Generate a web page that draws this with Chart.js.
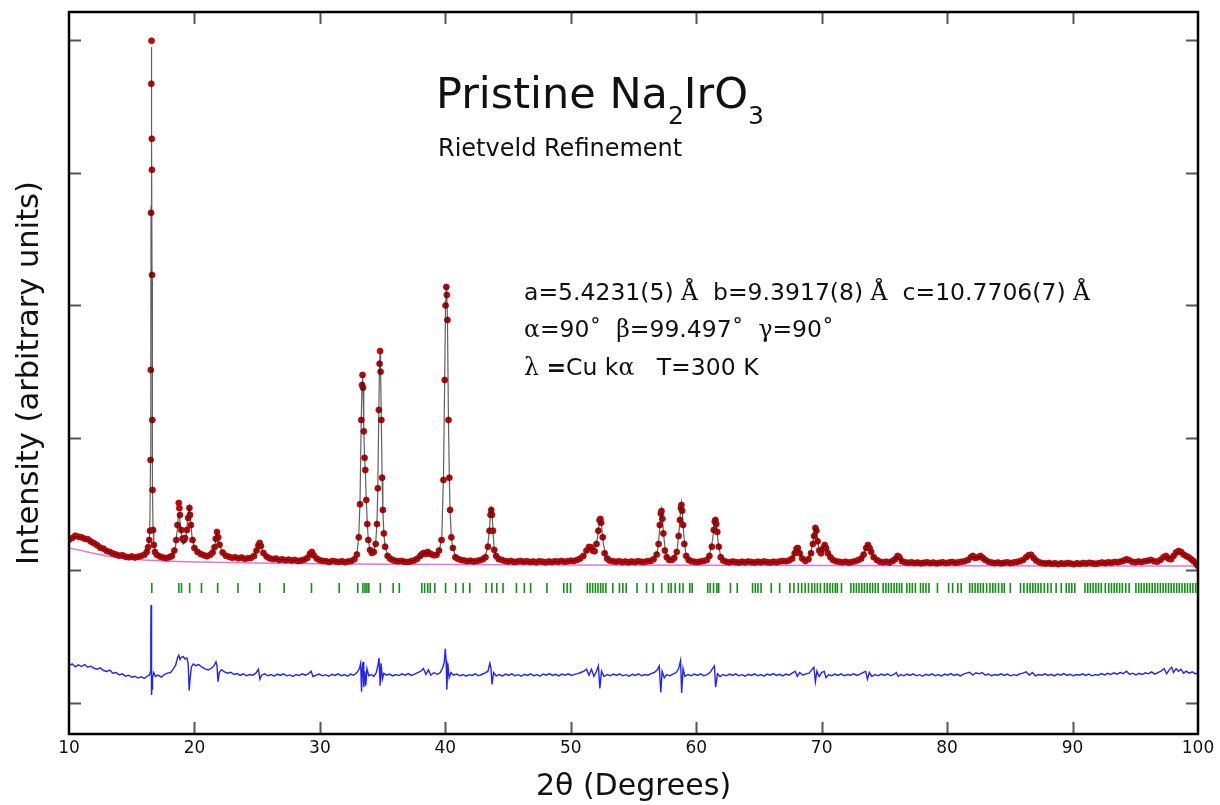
<!DOCTYPE html>
<html><head><meta charset="utf-8">
<script src="https://cdn.jsdelivr.net/npm/chart.js@4/dist/chart.umd.min.js"></script>
<style>
html,body{margin:0;padding:0;background:#fff;}
#wrap{position:relative;width:1220px;height:805px;overflow:hidden;font-family:"DejaVu Sans",sans-serif;color:#000;}
#c{position:absolute;left:0;top:0;}
.t{position:absolute;white-space:pre;line-height:1;color:#111;}
.g{font-family:"DejaVu Serif","Liberation Serif",serif;}
</style></head><body>
<div id="wrap">
<canvas id="c" width="1220" height="805"></canvas>
<div class="t" style="left:436px;top:72px;font-size:43px;">Pristine Na<span style="font-size:25px;position:relative;top:16px;">2</span>IrO<span style="font-size:25px;position:relative;top:16px;">3</span></div>
<div class="t" style="left:438px;top:136px;font-size:24px;">Rietveld Refinement</div>
<div class="t" style="left:524px;top:281px;font-size:23.5px;">a=5.4231(5) <span class="g">Å</span>  b=9.3917(8) <span class="g">Å</span>  c=10.7706(7) <span class="g">Å</span></div>
<div class="t" style="left:524px;top:318px;font-size:23.5px;"><span class="g">α</span>=90˚  <span class="g">β</span>=99.497˚  <span class="g">γ</span>=90˚</div>
<div class="t" style="left:524px;top:356px;font-size:23.5px;"><span class="g">λ</span> <b>=</b>Cu k<span class="g">α</span>   T=300 K</div>
</div>
<script>
const xTicks = [10,20,30,40,50,60,70,80,90,100];
const yTicks = [-1000,0,1000,2000,3000,4000];

const observed = [[10.00,232],[10.25,245],[10.50,262],[10.75,255],[11.00,250],[11.25,240],[11.50,236],[11.75,218],[12.00,205],[12.25,190],[12.50,172],[12.75,165],[13.00,148],[13.25,140],[13.50,128],[13.75,120],[14.00,112],[14.25,115],[14.50,104],[14.75,100],[15.00,106],[15.25,98],[15.50,104],[15.75,110],[16.00,118],[16.20,140],[16.30,175],[16.40,230],[16.46,300],[16.50,834],[16.52,1514],[16.54,2699],[16.56,3673],[16.58,3998],[16.60,3258],[16.61,3024],[16.62,2231],[16.64,1136],[16.66,608],[16.70,306],[16.76,193],[16.85,140],[17.00,118],[17.25,105],[17.50,98],[17.75,94],[18.00,100],[18.20,110],[18.40,150],[18.55,230],[18.65,343],[18.75,509],[18.80,470],[18.85,419],[18.95,306],[19.05,240],[19.15,228],[19.25,245],[19.40,306],[19.50,396],[19.60,472],[19.65,420],[19.72,343],[19.85,230],[20.00,170],[20.25,140],[20.50,125],[20.75,115],[21.00,108],[21.25,118],[21.45,135],[21.60,175],[21.70,240],[21.80,291],[21.90,250],[22.00,195],[22.25,135],[22.50,112],[22.75,104],[23.00,96],[23.25,100],[23.50,92],[23.75,98],[24.00,88],[24.25,92],[24.50,95],[24.75,110],[24.95,150],[25.10,190],[25.20,208],[25.30,185],[25.50,132],[25.75,105],[26.00,92],[26.25,86],[26.50,90],[26.75,80],[27.00,84],[27.25,78],[27.50,82],[27.75,76],[28.00,80],[28.25,72],[28.50,76],[28.75,82],[29.00,95],[29.20,125],[29.35,140],[29.50,115],[29.75,90],[30.00,78],[30.25,72],[30.50,70],[30.75,64],[31.00,72],[31.25,68],[31.50,64],[31.75,70],[32.00,62],[32.25,68],[32.50,72],[32.75,85],[32.95,120],[33.10,250],[33.20,500],[33.30,1136],[33.36,1400],[33.40,1476],[33.44,1380],[33.50,1050],[33.56,850],[33.62,758],[33.70,532],[33.78,350],[33.86,230],[34.00,155],[34.15,132],[34.30,140],[34.45,200],[34.55,350],[34.62,620],[34.70,1212],[34.76,1560],[34.80,1656],[34.84,1500],[34.90,1136],[34.96,700],[35.02,457],[35.10,280],[35.20,180],[35.40,110],[35.60,90],[35.80,79],[36.00,74],[36.25,70],[36.50,72],[36.75,66],[37.00,64],[37.25,70],[37.50,76],[37.75,88],[38.00,110],[38.15,125],[38.30,132],[38.45,125],[38.60,140],[38.75,128],[38.90,122],[39.10,115],[39.30,118],[39.50,150],[39.70,230],[39.85,683],[39.95,1438],[40.02,2000],[40.08,2140],[40.12,2080],[40.17,1891],[40.25,1136],[40.32,700],[40.38,457],[40.48,250],[40.60,170],[40.80,100],[41.00,88],[41.25,80],[41.50,76],[41.75,70],[42.00,74],[42.25,68],[42.50,72],[42.75,78],[43.00,85],[43.20,100],[43.40,180],[43.52,300],[43.60,420],[43.66,457],[43.72,420],[43.80,300],[43.90,155],[44.05,110],[44.25,87],[44.50,80],[44.75,72],[45.00,68],[45.25,72],[45.50,64],[45.75,68],[46.00,72],[46.25,66],[46.50,70],[46.75,64],[47.00,68],[47.25,62],[47.50,70],[47.75,66],[48.00,62],[48.25,68],[48.50,64],[48.75,70],[49.00,66],[49.25,72],[49.50,66],[49.75,70],[50.00,74],[50.25,72],[50.50,80],[50.75,90],[51.00,110],[51.25,150],[51.45,178],[51.60,175],[51.75,150],[51.90,145],[52.05,200],[52.20,300],[52.30,380],[52.36,389],[52.42,360],[52.55,250],[52.70,130],[52.90,90],[53.10,75],[53.35,70],[53.60,66],[53.85,70],[54.10,64],[54.35,68],[54.60,62],[54.85,68],[55.10,64],[55.35,70],[55.60,66],[55.85,64],[56.10,70],[56.35,72],[56.60,85],[56.85,120],[57.00,200],[57.10,343],[57.18,430],[57.23,449],[57.30,390],[57.38,280],[57.50,150],[57.65,100],[57.85,80],[58.05,80],[58.25,95],[58.45,140],[58.60,260],[58.70,381],[58.78,470],[58.82,494],[58.88,450],[58.95,343],[59.05,200],[59.20,110],[59.40,80],[59.60,70],[59.85,66],[60.10,64],[60.35,68],[60.60,72],[60.85,80],[61.05,110],[61.25,180],[61.40,306],[61.48,370],[61.53,381],[61.60,350],[61.68,291],[61.80,180],[61.95,100],[62.15,75],[62.40,66],[62.65,62],[62.90,68],[63.15,64],[63.40,60],[63.65,66],[63.90,62],[64.15,68],[64.40,64],[64.65,60],[64.90,66],[65.15,62],[65.40,68],[65.65,64],[65.90,60],[66.15,66],[66.40,62],[66.65,68],[66.90,72],[67.15,70],[67.40,76],[67.65,90],[67.85,130],[68.00,165],[68.10,170],[68.25,130],[68.45,90],[68.70,72],[68.95,85],[69.15,130],[69.30,200],[69.40,260],[69.50,321],[69.58,300],[69.68,220],[69.80,150],[69.95,130],[70.10,165],[70.24,193],[70.35,170],[70.50,130],[70.70,100],[70.90,80],[71.15,70],[71.40,66],[71.65,62],[71.90,66],[72.15,60],[72.40,64],[72.65,70],[72.90,78],[73.15,90],[73.35,120],[73.55,170],[73.69,193],[73.82,170],[73.95,140],[74.15,100],[74.40,80],[74.65,66],[74.90,62],[75.15,66],[75.40,60],[75.65,72],[75.85,85],[76.05,110],[76.20,100],[76.40,70],[76.65,62],[76.90,58],[77.15,62],[77.40,56],[77.65,60],[77.90,54],[78.15,58],[78.40,62],[78.65,56],[78.90,60],[79.15,54],[79.40,58],[79.65,62],[79.90,56],[80.15,60],[80.40,64],[80.65,58],[80.90,62],[81.15,66],[81.40,70],[81.65,80],[81.90,100],[82.05,110],[82.25,95],[82.45,100],[82.65,110],[82.85,95],[83.05,80],[83.30,66],[83.55,60],[83.80,56],[84.05,60],[84.30,54],[84.55,58],[84.80,62],[85.05,56],[85.30,60],[85.55,64],[85.80,70],[86.05,80],[86.30,100],[86.50,115],[86.70,118],[86.90,95],[87.10,75],[87.35,62],[87.60,56],[87.85,52],[88.10,56],[88.35,50],[88.60,54],[88.85,48],[89.10,54],[89.35,50],[89.60,56],[89.85,52],[90.10,48],[90.35,54],[90.60,50],[90.85,56],[91.10,52],[91.35,58],[91.60,54],[91.85,50],[92.10,56],[92.35,60],[92.60,56],[92.85,62],[93.10,58],[93.35,64],[93.60,62],[93.85,68],[94.10,75],[94.30,85],[94.50,78],[94.75,66],[95.00,62],[95.25,68],[95.50,64],[95.75,70],[96.00,74],[96.25,80],[96.50,70],[96.75,66],[97.00,80],[97.25,100],[97.45,110],[97.65,90],[97.85,85],[98.05,110],[98.25,135],[98.45,147],[98.65,140],[98.85,120],[99.05,110],[99.25,100],[99.45,85],[99.65,70],[99.85,50],[100.00,34]];

const calculated = [[10.0,240],[10.5,255],[11.0,250],[11.5,232],[12.0,205],[12.5,175],[13.0,150],[13.5,128],[14.0,113],[14.5,105],[15.0,102],[15.5,103],[16.0,115],[16.3,170],[16.44,280],[16.50,850],[16.52,1550],[16.54,2750],[16.56,3650],[16.58,3950],[16.60,3250],[16.62,2200],[16.64,1150],[16.66,620],[16.70,320],[16.76,200],[16.9,135],[17.2,108],[17.6,98],[18.0,100],[18.3,125],[18.5,190],[18.62,300],[18.72,420],[18.78,430],[18.86,360],[18.98,250],[19.1,200],[19.25,215],[19.4,320],[19.52,440],[19.6,480],[19.68,400],[19.8,260],[20.0,170],[20.4,130],[20.8,112],[21.2,112],[21.5,140],[21.65,200],[21.78,290],[21.88,260],[22.0,190],[22.3,125],[22.8,100],[23.5,95],[24.2,90],[24.7,105],[25.0,160],[25.18,205],[25.35,170],[25.6,115],[26.0,92],[27.0,82],[28.0,76],[28.8,82],[29.15,115],[29.32,132],[29.5,110],[29.9,82],[30.8,70],[31.8,67],[32.6,72],[32.95,120],[33.1,260],[33.2,520],[33.3,1150],[33.36,1420],[33.40,1480],[33.44,1390],[33.5,1060],[33.56,860],[33.62,760],[33.7,530],[33.78,350],[33.86,230],[34.0,155],[34.15,135],[34.3,145],[34.45,210],[34.55,360],[34.62,630],[34.7,1220],[34.76,1570],[34.8,1640],[34.84,1510],[34.9,1130],[34.96,700],[35.02,450],[35.1,280],[35.2,180],[35.4,112],[35.7,84],[36.3,72],[37.0,68],[37.6,78],[38.0,105],[38.3,130],[38.6,135],[38.9,120],[39.3,118],[39.55,160],[39.72,260],[39.85,700],[39.95,1450],[40.02,2020],[40.08,2150],[40.12,2090],[40.17,1880],[40.25,1130],[40.32,700],[40.38,450],[40.48,250],[40.6,165],[40.85,100],[41.3,80],[42.0,72],[42.7,76],[43.1,92],[43.35,160],[43.52,310],[43.6,440],[43.66,470],[43.72,430],[43.8,300],[43.9,160],[44.05,110],[44.3,88],[45.0,70],[46.0,68],[47.0,66],[48.0,66],[49.0,67],[50.0,72],[50.6,82],[51.0,108],[51.3,150],[51.5,172],[51.7,160],[51.9,160],[52.1,230],[52.25,340],[52.36,380],[52.45,340],[52.6,200],[52.8,110],[53.1,78],[53.8,68],[55.0,66],[56.0,68],[56.6,85],[56.9,140],[57.05,270],[57.15,400],[57.23,460],[57.3,400],[57.4,270],[57.55,140],[57.75,90],[58.05,82],[58.3,105],[58.5,170],[58.65,320],[58.75,450],[58.82,510],[58.9,430],[59.0,280],[59.15,140],[59.4,82],[60.0,66],[60.7,72],[61.05,110],[61.3,230],[61.45,350],[61.53,390],[61.62,340],[61.75,210],[61.95,105],[62.3,70],[63.5,63],[65.0,63],[66.5,65],[67.3,72],[67.7,100],[67.95,160],[68.08,175],[68.25,135],[68.5,85],[68.8,78],[69.1,120],[69.3,210],[69.42,290],[69.5,330],[69.6,290],[69.75,180],[69.95,140],[70.15,180],[70.25,195],[70.4,160],[70.65,105],[71.0,75],[71.6,64],[72.5,64],[73.0,75],[73.3,110],[73.55,170],[73.68,195],[73.85,165],[74.1,105],[74.5,72],[75.3,63],[75.8,80],[76.05,108],[76.3,80],[76.8,60],[78.0,58],[79.5,58],[81.0,63],[81.6,78],[82.0,105],[82.3,95],[82.65,108],[83.0,82],[83.5,62],[84.5,58],[85.6,62],[86.1,82],[86.5,112],[86.7,116],[86.95,90],[87.4,62],[88.5,53],[90.0,52],[91.5,54],[92.6,58],[93.6,64],[94.0,72],[94.3,82],[94.6,72],[95.2,65],[96.0,72],[96.3,78],[96.7,68],[97.1,82],[97.45,106],[97.7,90],[98.0,105],[98.45,145],[98.8,125],[99.2,100],[99.6,72],[100.0,40]];

const background = [[10,170],[11,150],[12,128],[13,110],[14,96],[15,86],[16,79],[18,70],[20,64],[25,56],[30,51],[35,48],[40,46],[50,42],[60,40],[70,37],[80,35],[90,34],[100,33]];

const difference = [[10.00,-720],[10.25,-705],[10.50,-728],[10.75,-712],[11.00,-725],[11.25,-710],[11.50,-730],[11.75,-722],[12.00,-738],[12.25,-745],[12.50,-735],[12.75,-755],[13.00,-762],[13.25,-752],[13.50,-775],[13.75,-770],[14.00,-788],[14.25,-780],[14.50,-798],[14.75,-790],[15.00,-805],[15.25,-798],[15.50,-812],[15.75,-802],[16.00,-815],[16.20,-800],[16.40,-790],[16.50,-760],[16.52,-520],[16.54,-260],[16.56,-420],[16.58,-600],[16.60,-940],[16.62,-860],[16.64,-900],[16.68,-810],[16.75,-770],[16.90,-800],[17.10,-790],[17.35,-805],[17.60,-785],[17.85,-775],[18.10,-770],[18.30,-745],[18.50,-715],[18.65,-660],[18.75,-640],[18.85,-672],[18.95,-655],[19.10,-650],[19.25,-668],[19.40,-660],[19.50,-700],[19.58,-905],[19.65,-820],[19.75,-730],[19.90,-705],[20.10,-718],[20.35,-710],[20.60,-730],[20.85,-742],[21.10,-750],[21.35,-738],[21.55,-720],[21.72,-690],[21.80,-720],[21.88,-840],[21.98,-770],[22.15,-748],[22.40,-765],[22.65,-775],[22.90,-768],[23.15,-785],[23.40,-778],[23.65,-792],[23.90,-780],[24.15,-795],[24.40,-785],[24.65,-790],[24.90,-775],[25.10,-745],[25.22,-820],[25.35,-790],[25.60,-780],[25.85,-795],[26.10,-785],[26.35,-798],[26.60,-782],[26.85,-792],[27.10,-780],[27.35,-795],[27.60,-788],[27.85,-800],[28.10,-785],[28.35,-793],[28.60,-780],[28.85,-790],[29.10,-778],[29.30,-760],[29.45,-800],[29.70,-790],[29.95,-782],[30.20,-795],[30.45,-786],[30.70,-798],[30.95,-784],[31.20,-792],[31.45,-780],[31.70,-795],[31.95,-785],[32.20,-798],[32.45,-782],[32.70,-790],[32.95,-770],[33.15,-740],[33.25,-700],[33.32,-915],[33.38,-740],[33.44,-690],[33.50,-880],[33.58,-760],[33.66,-870],[33.75,-740],[33.90,-795],[34.10,-785],[34.30,-800],[34.50,-770],[34.62,-720],[34.72,-660],[34.80,-870],[34.88,-700],[34.98,-820],[35.10,-775],[35.30,-790],[35.55,-782],[35.80,-796],[36.05,-785],[36.30,-793],[36.55,-780],[36.80,-790],[37.05,-778],[37.30,-792],[37.55,-782],[37.80,-770],[38.05,-760],[38.25,-740],[38.45,-785],[38.65,-750],[38.85,-790],[39.10,-770],[39.35,-785],[39.60,-770],[39.80,-730],[39.92,-690],[40.00,-590],[40.06,-680],[40.12,-900],[40.20,-700],[40.30,-810],[40.45,-770],[40.65,-790],[40.90,-782],[41.15,-795],[41.40,-785],[41.65,-798],[41.90,-786],[42.15,-792],[42.40,-780],[42.65,-795],[42.90,-785],[43.15,-775],[43.40,-760],[43.55,-700],[43.64,-740],[43.72,-860],[43.85,-770],[44.05,-795],[44.30,-785],[44.55,-797],[44.80,-782],[45.05,-792],[45.30,-780],[45.55,-795],[45.80,-786],[46.05,-798],[46.30,-784],[46.55,-792],[46.80,-780],[47.05,-795],[47.30,-785],[47.55,-798],[47.80,-782],[48.05,-790],[48.30,-778],[48.55,-792],[48.80,-784],[49.05,-796],[49.30,-782],[49.55,-790],[49.80,-780],[50.05,-792],[50.30,-784],[50.55,-778],[50.80,-770],[51.05,-760],[51.25,-745],[51.45,-790],[51.65,-745],[51.85,-800],[52.05,-760],[52.20,-720],[52.32,-890],[52.45,-760],[52.65,-800],[52.90,-785],[53.15,-795],[53.40,-782],[53.65,-792],[53.90,-780],[54.15,-795],[54.40,-786],[54.65,-798],[54.90,-784],[55.15,-792],[55.40,-780],[55.65,-795],[55.90,-785],[56.15,-790],[56.40,-778],[56.65,-770],[56.90,-750],[57.05,-720],[57.18,-920],[57.28,-760],[57.45,-810],[57.65,-785],[57.90,-795],[58.15,-782],[58.40,-770],[58.60,-740],[58.75,-680],[58.84,-925],[58.95,-740],[59.10,-800],[59.35,-785],[59.60,-795],[59.85,-782],[60.10,-792],[60.35,-780],[60.60,-795],[60.85,-786],[61.10,-770],[61.30,-740],[61.45,-720],[61.55,-880],[61.70,-780],[61.90,-800],[62.15,-785],[62.40,-795],[62.65,-782],[62.90,-792],[63.15,-780],[63.40,-795],[63.65,-786],[63.90,-798],[64.15,-784],[64.40,-792],[64.65,-780],[64.90,-795],[65.15,-785],[65.40,-798],[65.65,-782],[65.90,-790],[66.15,-778],[66.40,-792],[66.65,-784],[66.90,-796],[67.15,-782],[67.40,-790],[67.65,-775],[67.90,-760],[68.05,-800],[68.25,-770],[68.50,-790],[68.75,-780],[69.00,-775],[69.20,-750],[69.38,-730],[69.50,-840],[69.62,-760],[69.80,-800],[70.00,-770],[70.20,-760],[70.35,-810],[70.55,-785],[70.80,-795],[71.05,-782],[71.30,-792],[71.55,-780],[71.80,-795],[72.05,-785],[72.30,-790],[72.55,-780],[72.80,-792],[73.05,-782],[73.30,-770],[73.50,-760],[73.65,-820],[73.80,-770],[74.00,-800],[74.25,-785],[74.50,-795],[74.75,-782],[75.00,-792],[75.25,-780],[75.50,-795],[75.75,-785],[75.95,-770],[76.10,-800],[76.30,-785],[76.55,-795],[76.80,-782],[77.05,-792],[77.30,-780],[77.55,-795],[77.80,-786],[78.05,-798],[78.30,-784],[78.55,-792],[78.80,-780],[79.05,-795],[79.30,-785],[79.55,-798],[79.80,-782],[80.05,-790],[80.30,-778],[80.55,-792],[80.80,-784],[81.05,-796],[81.30,-782],[81.55,-775],[81.80,-768],[82.05,-790],[82.30,-772],[82.55,-780],[82.80,-770],[83.05,-790],[83.30,-782],[83.55,-795],[83.80,-785],[84.05,-790],[84.30,-780],[84.55,-792],[84.80,-782],[85.05,-795],[85.30,-786],[85.55,-792],[85.80,-780],[86.05,-775],[86.30,-765],[86.55,-790],[86.80,-770],[87.05,-795],[87.30,-785],[87.55,-790],[87.80,-780],[88.05,-792],[88.30,-784],[88.55,-796],[88.80,-782],[89.05,-790],[89.30,-778],[89.55,-792],[89.80,-784],[90.05,-795],[90.30,-785],[90.55,-790],[90.80,-780],[91.05,-792],[91.30,-782],[91.55,-795],[91.80,-786],[92.05,-790],[92.30,-778],[92.55,-788],[92.80,-776],[93.05,-785],[93.30,-772],[93.55,-782],[93.80,-770],[94.05,-778],[94.30,-760],[94.55,-785],[94.80,-775],[95.05,-788],[95.30,-776],[95.55,-785],[95.80,-772],[96.05,-780],[96.30,-765],[96.55,-782],[96.80,-770],[97.05,-760],[97.30,-740],[97.50,-780],[97.70,-750],[97.90,-730],[98.05,-770],[98.25,-740],[98.45,-760],[98.65,-745],[98.85,-775],[99.05,-760],[99.30,-775],[99.55,-765],[99.80,-780],[100.00,-772]];

const braggPositions = [16.60,18.76,18.97,19.62,20.56,21.85,23.47,25.21,27.15,29.33,31.54,33.02,33.43,33.60,33.75,33.90,34.82,35.84,36.33,38.13,38.35,38.60,38.80,39.16,40.02,40.83,41.42,41.95,43.25,43.71,44.10,44.60,45.67,46.30,46.80,48.10,49.44,49.71,49.98,51.32,51.53,51.74,51.96,52.17,52.38,52.57,52.80,53.35,53.88,54.15,54.42,55.28,56.04,56.57,57.25,57.79,58.00,58.32,58.68,58.95,59.49,59.68,60.92,61.11,61.38,61.65,61.79,62.73,63.27,64.49,64.71,64.92,65.17,65.98,66.65,67.47,67.79,68.14,68.41,68.68,68.95,69.22,69.44,69.66,69.90,70.22,70.44,70.66,70.87,71.09,71.25,71.58,72.33,72.55,72.77,72.98,73.20,73.41,73.63,73.85,74.06,74.28,74.50,74.90,75.12,75.33,75.55,75.77,75.98,76.20,76.39,76.79,77.01,77.23,77.47,77.88,78.09,78.31,78.55,79.23,80.12,80.44,80.85,81.12,81.80,82.01,82.23,82.45,82.66,82.88,83.15,83.42,83.64,83.85,84.10,84.37,84.56,85.04,85.85,86.12,86.39,86.61,86.83,87.04,87.26,87.48,87.75,88.02,88.29,88.69,89.10,89.50,89.72,89.94,90.18,90.99,91.21,91.42,91.64,91.86,92.07,92.29,92.61,92.88,93.10,93.32,93.53,93.75,93.97,94.24,94.51,95.05,95.27,95.48,95.70,95.92,96.13,96.35,96.57,96.78,97.00,97.22,97.43,97.65,97.86,98.08,98.30,98.51,98.73,98.95,99.16,99.38,99.59,99.81];
const braggLevel = -132;

const toXY = arr => arr.map(p => ({x: p[0], y: p[1]}));

const framePlugin = {
  id: 'frame',
  afterDatasetsDraw(chart) {
    const {ctx, chartArea: a, scales: {x, y}} = chart;
    const L = 12;
    ctx.save();
    ctx.strokeStyle = '#555';
    ctx.lineWidth = 2;
    ctx.beginPath();
    xTicks.forEach(v => {
      if (v === x.min || v === x.max) return;
      const px = Math.round(x.getPixelForValue(v)) + 0.5;
      ctx.moveTo(px, a.bottom); ctx.lineTo(px, a.bottom - L);
      ctx.moveTo(px, a.top); ctx.lineTo(px, a.top + L);
    });
    yTicks.forEach(v => {
      const py = Math.round(y.getPixelForValue(v)) + 0.5;
      ctx.moveTo(a.left, py); ctx.lineTo(a.left + L, py);
      ctx.moveTo(a.right, py); ctx.lineTo(a.right - L, py);
    });
    ctx.stroke();
    ctx.strokeStyle = '#000';
    ctx.lineWidth = 2.5;
    ctx.strokeRect(a.left, a.top, a.right - a.left, a.bottom - a.top);
    ctx.restore();
  }
};

Chart.defaults.font.family = '"DejaVu Sans", sans-serif';
new Chart(document.getElementById('c'), {
  type: 'scatter',
  data: {
    datasets: [
      {label: 'Calculated', data: toXY(calculated), showLine: true, borderColor: 'rgba(30,30,30,0.7)', borderWidth: 1.2, pointRadius: 0, order: 0},
      {label: 'Observed', data: toXY(observed), showLine: false, pointRadius: 3, pointBackgroundColor: '#d00000', pointBorderColor: '#950000', pointBorderWidth: 0.7, order: 1},
      {label: 'Background', data: toXY(background), showLine: true, borderColor: '#dd77dd', borderWidth: 1.5, pointRadius: 0, order: 2},
      {label: 'Difference', data: toXY(difference), showLine: true, borderColor: '#2222ff', borderWidth: 1.4, pointRadius: 0, order: 3},
      {label: 'Bragg positions', data: braggPositions.map(v => ({x: v, y: braggLevel})), showLine: false, pointStyle: 'line', rotation: 90, pointRadius: 5, pointBorderColor: '#139013', pointBorderWidth: 1.6, order: 4}
    ]
  },
  options: {
    responsive: false, animation: false, devicePixelRatio: 1,
    layout: {padding: {left: 0, top: 12, right: 22, bottom: 0}},
    plugins: {legend: {display: false}, tooltip: {enabled: false}},
    elements: {line: {tension: 0}},
    scales: {
      x: {
        type: 'linear', min: 10, max: 100,
        afterBuildTicks: s => { s.ticks = xTicks.map(v => ({value: v})); },
        afterFit: s => { s.height = 71; },
        grid: {display: false, drawTicks: false},
        border: {display: false},
        ticks: {padding: 4, font: {size: 17}, color: '#111'},
        title: {display: true, text: '2θ (Degrees)', font: {size: 30}, color: '#111', padding: {top: 0, bottom: 0}}
      },
      y: {
        type: 'linear', min: -1234, max: 4215,
        afterBuildTicks: s => { s.ticks = yTicks.map(v => ({value: v})); },
        afterFit: s => { s.width = 69; },
        grid: {display: false, drawTicks: false},
        border: {display: false},
        ticks: {display: false},
        title: {display: true, text: 'Intensity (arbitrary units)', font: {size: 30.5}, color: '#111', padding: {top: 12, bottom: 0}}
      }
    }
  },
  plugins: [framePlugin]
});
</script>
</body></html>
